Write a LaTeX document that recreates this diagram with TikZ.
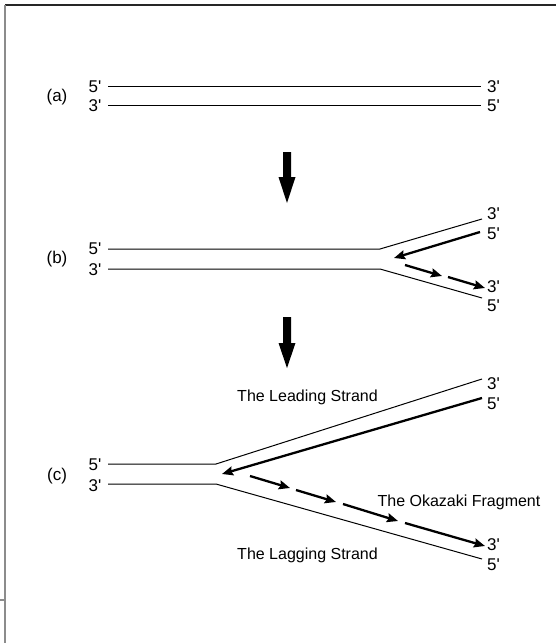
\documentclass[tikz,border=0pt]{standalone}
\usepackage{fontspec}
\setmainfont{Liberation Sans}
\usetikzlibrary{arrows.meta}
\newcommand{\tq}{\textquotesingle}
\begin{document}
\begin{tikzpicture}[x=1pt,y=-1pt,
  lbl/.style={font=\fontsize{17}{19}\selectfont, inner sep=0pt},
  captxt/.style={font=\fontsize{16}{18}\selectfont, inner sep=0pt},
  strand/.style={line width=1pt},
  newdna/.style={line width=2.3pt, -{Stealth[length=11pt,width=9pt,inset=1.5pt]}},
  bigarrow/.style={fill=black},
  frameline/.style={line width=1.4pt, draw=black!45}
]
\useasboundingbox (0,0) rectangle (556,643);
% frame
\draw[line width=1.2pt, black!85] (5,5) coordinate (fTL) -- (556,5) coordinate (fTR);
\draw[frameline] (fTL) -- (5,643) coordinate (fBL);
\draw[frameline] (0,600) coordinate (fS1) -- (5,600) coordinate (fS2);

% ---------- (a)
\node[lbl] (la) at (57,97) {(a)};
\node[lbl] (a5l) at (95,87) {5\tq};
\node[lbl] (a3l) at (95,106) {3\tq};
\node[lbl, anchor=west] (a3r) at (487,87) {3\tq};
\node[lbl, anchor=west] (a5r) at (487,106) {5\tq};
\coordinate (aT1) at (108,86); \coordinate (aT2) at (481,86);
\coordinate (aB1) at (108,105); \coordinate (aB2) at (481,105);
\draw[strand] (aT1) -- (aT2);
\draw[strand] (aB1) -- (aB2);

% big arrow 1
\fill[bigarrow] (283,152) coordinate (A1) -- (291,152) -- (291,177) -- (295.5,177) -- (287,203) coordinate (A1tip) -- (278.5,177) -- (283,177) -- cycle;

% ---------- (b)
\node[lbl] (lb) at (57,259) {(b)};
\node[lbl] (b5l) at (95,249) {5\tq};
\node[lbl] (b3l) at (95,270) {3\tq};
\node[lbl, anchor=west] (b3r1) at (487,214) {3\tq};
\node[lbl, anchor=west] (b5r1) at (487,234) {5\tq};
\node[lbl, anchor=west] (b3r2) at (487,287) {3\tq};
\node[lbl, anchor=west] (b5r2) at (487,306) {5\tq};
\coordinate (bT1) at (108,249); \coordinate (bT2) at (380,249); \coordinate (bT3) at (482,219);
\coordinate (bB1) at (108,269); \coordinate (bB2) at (380,269); \coordinate (bB3) at (482,298);
\draw[strand] (bT1) -- (bT2) -- (bT3);
\draw[strand] (bB1) -- (bB2) -- (bB3);
\coordinate (bL1) at (480,232); \coordinate (bL2) at (394,258);
\draw[newdna] (bL1) -- (bL2);
\coordinate (bG1) at (405,265); \coordinate (bG2) at (442,276);
\coordinate (bG3) at (448,277); \coordinate (bG4) at (485,288);
\draw[newdna] (bG1) -- (bG2);
\draw[newdna] (bG3) -- (bG4);

% big arrow 2
\fill[bigarrow] (283,317) coordinate (A2) -- (291,317) -- (291,343) -- (295.5,343) -- (287,368) coordinate (A2tip) -- (278.5,343) -- (283,343) -- cycle;

% ---------- (c)
\node[lbl] (lc) at (57,476) {(c)};
\node[lbl] (c5l) at (95,465) {5\tq};
\node[lbl] (c3l) at (95,486) {3\tq};
\node[lbl, anchor=west] (c3r1) at (487,384) {3\tq};
\node[lbl, anchor=west] (c5r1) at (487,404) {5\tq};
\node[lbl, anchor=west] (c3r2) at (487,545) {3\tq};
\node[lbl, anchor=west] (c5r2) at (487,565) {5\tq};
\coordinate (cT1) at (108,464); \coordinate (cT2) at (216,464); \coordinate (cT3) at (482,379);
\coordinate (cB1) at (108,484); \coordinate (cB2) at (216,484); \coordinate (cB3) at (482,559);
\draw[strand] (cT1) -- (cT2) -- (cT3);
\draw[strand] (cB1) -- (cB2) -- (cB3);
\coordinate (cL1) at (482,398); \coordinate (cL2) at (222,474);
\draw[newdna] (cL1) -- (cL2);
\coordinate (cG1) at (250,476); \coordinate (cG2) at (290,488);
\coordinate (cG3) at (296,490); \coordinate (cG4) at (336,502);
\coordinate (cG5) at (343,504); \coordinate (cG6) at (398,521);
\coordinate (cG7) at (405,523); \coordinate (cG8) at (485,546);
\draw[newdna] (cG1) -- (cG2);
\draw[newdna] (cG3) -- (cG4);
\draw[newdna] (cG5) -- (cG6);
\draw[newdna] (cG7) -- (cG8);

\node[captxt] (lead) at (307.5,397) {The Leading Strand};
\node[captxt] (okaz) at (459,502) {The Okazaki Fragment};
\node[captxt] (lagg) at (307.5,555) {The Lagging Strand};
\end{tikzpicture}
\end{document}
